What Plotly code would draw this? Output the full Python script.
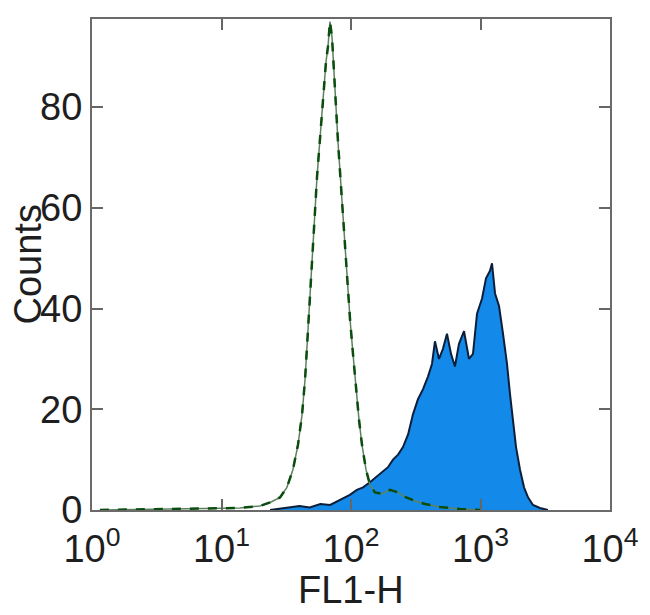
import plotly.graph_objects as go

# Histograma relleno (muestra teñida)
fl1_azul = [23.7, 31, 40, 48, 58, 69, 82, 98, 111, 124, 140, 156, 173, 193, 211,
            231, 252, 276, 301, 329, 360, 393, 422, 445, 478, 513, 551, 592, 635,
            682, 746, 815, 875, 940, 1028, 1103, 1184, 1227, 1295, 1390, 1492,
            1602, 1690, 1783, 1881, 2019, 2168, 2327, 2543, 2878, 3318]
cuentas_azul = [0, 0.4, 0.8, 0.5, 1.2, 1.0, 2.0, 3.0, 4.0, 4.5, 5.5, 6.5, 7.5, 8.5, 10,
                11, 12.5, 15, 19, 22, 24, 26.5, 29, 33.5, 30, 32, 35, 31, 28.5,
                33, 35.5, 30, 31, 39, 42, 46, 47.5, 49, 43, 40.5, 35,
                29, 23, 18, 12.5, 8, 4.5, 2.5, 1.0, 0.4, 0]

# Histograma de control (solo contorno)
fl1_verde = [1.15, 6.8, 13.9, 19.8, 23.7, 28.3, 32, 35.6, 39, 41.9, 44.2, 46.6, 49.1,
             51.8, 54.6, 57.6, 60.8, 64.1, 66.4, 68.8, 71.3, 73.9, 76.6, 79.4, 83.7,
             88.3, 93.1, 98.2, 103.6, 109.3, 115.2, 121.5, 130.6, 140.2, 153, 173,
             200, 231, 261, 312, 373, 486, 695, 991]
cuentas_verde = [0, 0.2, 0.4, 0.8, 1.5, 2.5, 4.5, 8, 13, 19, 26, 36, 45,
                 56, 66, 74, 81, 89, 92, 97, 94, 88, 80, 73, 64,
                 55, 46, 38, 31, 24, 18, 13, 8, 5, 3.5, 3.2,
                 4, 3.5, 2.6, 1.8, 1.2, 0.6, 0.2, 0]

x_ticks = [1, 10, 100, 1000, 10000]
x_labels = ["10<sup>0</sup>", "10<sup>1</sup>", "10<sup>2</sup>", "10<sup>3</sup>", "10<sup>4</sup>"]
y_ticks = [0, 20, 40, 60, 80]

fuente = "Liberation Sans, Arial"

fig = go.Figure()

fig.add_trace(go.Scatter(
    x=fl1_azul, y=cuentas_azul, mode="lines", fill="tozeroy",
    fillcolor="#138aea", line=dict(color="#0b1f3a", width=2),
    showlegend=False))

# contorno verde: linea fina + trazos oscuros encima
fig.add_trace(go.Scatter(
    x=fl1_verde, y=cuentas_verde, mode="lines",
    line=dict(color="#5f805f", width=1.5), showlegend=False))
fig.add_trace(go.Scatter(
    x=fl1_verde, y=cuentas_verde, mode="lines",
    line=dict(color="#0b4d0f", width=2.5, dash="dash"), showlegend=False))

fig.update_xaxes(type="log", range=[0, 4], tickvals=x_ticks, ticktext=x_labels,
                 ticks="inside", ticklen=11, tickwidth=1.5, tickcolor="#666",
                 mirror="ticks", showline=True, linecolor="#6a6a6a", linewidth=2,
                 showgrid=False, zeroline=False, ticklabelstandoff=4,
                 tickfont=dict(family=fuente, size=38, color="#1e1e1e"))
fig.update_yaxes(range=[0, 97.5], tickvals=y_ticks, ticks="inside", ticklen=11,
                 tickwidth=1.5, tickcolor="#666", mirror="ticks", showline=True,
                 linecolor="#6a6a6a", linewidth=2, showgrid=False, zeroline=False,
                 tickfont=dict(family=fuente, size=38, color="#1e1e1e"))

fig.add_annotation(text="FL1-H", xref="paper", yref="paper", x=0.5, y=0,
                   xanchor="center", yanchor="middle", yshift=-80, showarrow=False,
                   font=dict(family=fuente, size=38, color="#1e1e1e"))
fig.add_annotation(text="Counts", xref="paper", yref="paper", x=0, y=0.5,
                   xanchor="center", yanchor="middle", xshift=-65, textangle=-90,
                   showarrow=False,
                   font=dict(family=fuente, size=38, color="#1e1e1e"))

# el cuerpo de la pagina deja 8 px de margen
fig.update_layout(width=650, height=615, plot_bgcolor="white", paper_bgcolor="white",
                  margin=dict(l=84, r=48, t=9, b=113))

fig.write_html("out.html")
